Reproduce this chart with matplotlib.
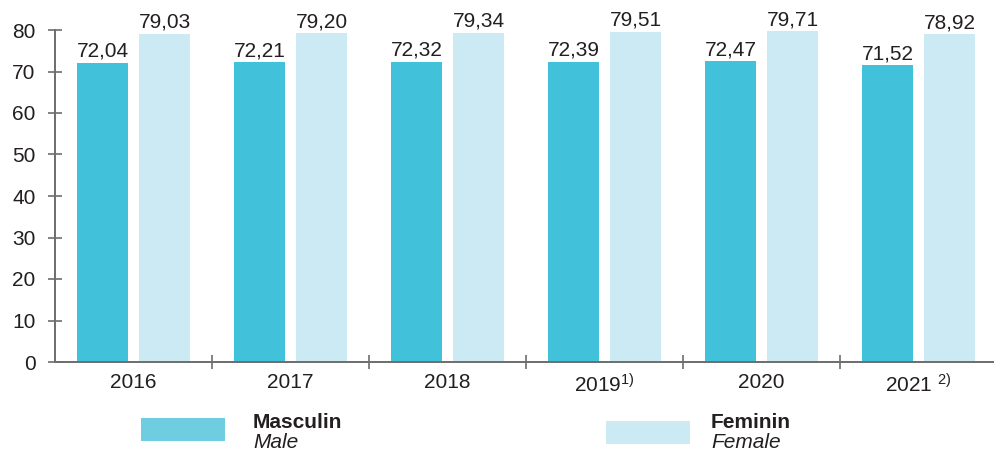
import matplotlib
matplotlib.use("Agg")
import matplotlib.pyplot as plt
from matplotlib.patches import Rectangle
import numpy as np

plt.rcParams['font.family'] = ['Liberation Sans', 'DejaVu Sans']
plt.rcParams['mathtext.default'] = 'regular'

# Data
years = ['2016', '2017', '2018', '2019$^{1)}$', '2020', '2021 $^{2)}$']
male = [72.04, 72.21, 72.32, 72.39, 72.47, 71.52]
female = [79.03, 79.20, 79.34, 79.51, 79.71, 78.92]

male_color = '#42c1da'
female_color = '#cceaf4'
axis_color = '#6d6d6d'
text_color = '#231f20'

fig = plt.figure(figsize=(9.94, 4.53), dpi=100)
ax = fig.add_axes([55 / 994, 91 / 453, 942 / 994, 332 / 453])

x = np.arange(len(years))
w = 0.325
b1 = ax.bar(x - 0.195, male, width=w, color=male_color)
b2 = ax.bar(x + 0.2, female, width=w, color=female_color)

for bars, vals in ((b1, male), (b2, female)):
    for bar, v in zip(bars, vals):
        ax.annotate(f'{v:.2f}'.replace('.', ','),
                    (bar.get_x() + bar.get_width() / 2, v),
                    xytext=(0, 1.5), textcoords='offset points',
                    ha='center', va='bottom', fontsize=15,
                    color=text_color, clip_on=False)

ax.set_xlim(-0.5, len(years) - 0.5)
ax.set_ylim(0, 80)
ax.set_yticks(range(0, 81, 10))
ax.set_xticks(x)
ax.set_xticklabels(years)
ax.set_xticks(np.arange(0.5, len(years) - 0.5, 1), minor=True)

for s in ('top', 'right'):
    ax.spines[s].set_visible(False)
for s in ('left', 'bottom'):
    ax.spines[s].set_color(axis_color)
    ax.spines[s].set_linewidth(1.4)

ax.tick_params(axis='y', direction='inout', length=10, width=1.2,
               color=axis_color, labelsize=15, labelcolor=text_color, pad=9)
ax.tick_params(axis='x', which='major', length=0, labelsize=15,
               labelcolor=text_color, pad=8)
ax.tick_params(axis='x', which='minor', direction='inout', length=10,
               width=1.2, color=axis_color)

# Legend
fig.add_artist(Rectangle((141 / 994, 1 - 441 / 453), 84 / 994, 23 / 453,
                         transform=fig.transFigure, color='#6fcde1', lw=0))
fig.text(253 / 994, 1 - 422 / 453, 'Masculin', fontsize=15, fontweight='bold',
         color=text_color, va='center')
fig.text(253 / 994, 1 - 442 / 453, 'Male', fontsize=15, style='italic',
         color=text_color, va='center')
fig.add_artist(Rectangle((606 / 994, 1 - 444 / 453), 84 / 994, 23 / 453,
                         transform=fig.transFigure, color=female_color, lw=0))
fig.text(711 / 994, 1 - 422 / 453, 'Feminin', fontsize=15, fontweight='bold',
         color=text_color, va='center')
fig.text(711 / 994, 1 - 442 / 453, 'Female', fontsize=15, style='italic',
         color=text_color, va='center')

fig.savefig('out.png', dpi=100)
